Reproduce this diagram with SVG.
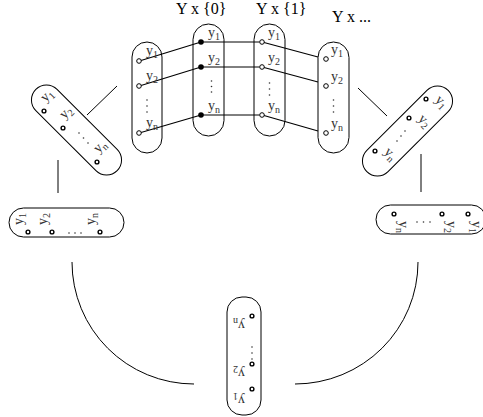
<svg xmlns="http://www.w3.org/2000/svg" width="483" height="417" viewBox="0 0 483 417">
<style>
.cap{fill:none;stroke:#000;stroke-width:1}
.oc{fill:#fff;stroke:#000;stroke-width:1}
.bc{fill:#fff;stroke:#000;stroke-width:1.4}
.fd{fill:#000}
.dt{fill:#333}
.lb{font-family:"Liberation Serif",serif;font-size:14px;fill:#333}
.sb{font-size:10px}
.tt{font-family:"Liberation Serif",serif;font-size:16px;fill:#000}
.ln{fill:none;stroke:#000;stroke-width:1}
.lt{fill:none;stroke:#000;stroke-width:1.2}
</style>
<g id="connectors">
<path class="lt" d="M141,60.5 L201,42 M141,85.5 L201,67 M141,132.5 L201,115"/>
<path class="ln" d="M201,42 H259.5 M201,67 H259.5 M201,115 H259.5"/>
<path class="lt" d="M264,42.5 L318,57 M264,67.5 L318,82 M264,115.5 L318,131"/>
<path class="ln" d="M117,86 L87,115 M58,160 V193 M358,88 L387,116 M421,154 V192"/>
<path class="ln" d="M72,262 A122,122 0 0 0 194,384 M418,262 A123,122 0 0 1 295,384"/>
</g>
<g id="cap1">
<rect class="cap" x="132" y="42" width="30" height="111" rx="15"/>
<text class="lb" x="146" y="55">y<tspan class="sb" dy="3">1</tspan></text>
<text class="lb" x="146" y="80">y<tspan class="sb" dy="3">2</tspan></text>
<text class="lb" x="146" y="127">y<tspan class="sb" dy="3">n</tspan></text>
<circle class="dt" cx="147" cy="100" r="0.8"/><circle class="dt" cx="147" cy="106" r="0.8"/><circle class="dt" cx="147" cy="112" r="0.8"/>
<circle class="oc" cx="139" cy="61" r="2.3"/><circle class="oc" cx="139" cy="86" r="2.3"/><circle class="oc" cx="139" cy="133" r="2.3"/>
</g>
<g id="cap2">
<text class="tt" x="176" y="14">Y x {0}</text>
<rect class="cap" x="193" y="24" width="31" height="112" rx="15.5"/>
<text class="lb" x="208" y="37">y<tspan class="sb" dy="3">1</tspan></text>
<text class="lb" x="208" y="62">y<tspan class="sb" dy="3">2</tspan></text>
<text class="lb" x="208" y="110">y<tspan class="sb" dy="3">n</tspan></text>
<circle class="dt" cx="211.5" cy="81" r="0.8"/><circle class="dt" cx="211.5" cy="86.5" r="0.8"/><circle class="dt" cx="211.5" cy="92" r="0.8"/>
<circle class="fd" cx="201" cy="42" r="2.8"/><circle class="fd" cx="201" cy="67" r="2.8"/><circle class="fd" cx="201" cy="115" r="2.8"/>
</g>
<g id="cap3">
<text class="tt" x="256" y="14">Y x {1}</text>
<rect class="cap" x="254" y="24" width="31" height="112" rx="15.5"/>
<text class="lb" x="268" y="37">y<tspan class="sb" dy="3">1</tspan></text>
<text class="lb" x="268" y="62">y<tspan class="sb" dy="3">2</tspan></text>
<text class="lb" x="268" y="110">y<tspan class="sb" dy="3">n</tspan></text>
<circle class="dt" cx="269.5" cy="83" r="0.8"/><circle class="dt" cx="269.5" cy="89" r="0.8"/><circle class="dt" cx="269.5" cy="95" r="0.8"/>
<circle class="oc" cx="262" cy="42" r="2.3"/><circle class="oc" cx="262" cy="67" r="2.3"/><circle class="oc" cx="262" cy="115" r="2.3"/>
</g>
<g id="cap4">
<text class="tt" x="332" y="21.5">Y x ...</text>
<rect class="cap" x="318" y="42" width="31" height="111" rx="15.5"/>
<text class="lb" x="331" y="54">y<tspan class="sb" dy="3">1</tspan></text>
<text class="lb" x="331" y="81">y<tspan class="sb" dy="3">2</tspan></text>
<text class="lb" x="331" y="128">y<tspan class="sb" dy="3">n</tspan></text>
<circle class="dt" cx="333.5" cy="100" r="0.8"/><circle class="dt" cx="333.5" cy="106" r="0.8"/><circle class="dt" cx="333.5" cy="112" r="0.8"/>
<circle class="oc" cx="326" cy="59" r="2.3"/><circle class="oc" cx="326" cy="86" r="2.3"/><circle class="oc" cx="326" cy="133" r="2.3"/>
</g>
<g id="leftTilted">
<rect class="cap" x="-15" y="-57.5" width="30" height="115" rx="15" transform="translate(76.5,130) rotate(-45)"/>
<text class="lb" transform="translate(45.4,102.5) rotate(-45)">y<tspan class="sb" dy="3">1</tspan></text>
<text class="lb" transform="translate(64.4,119.5) rotate(-45)">y<tspan class="sb" dy="3">2</tspan></text>
<text class="lb" transform="translate(98.4,153.5) rotate(-45)">y<tspan class="sb" dy="3">n</tspan></text>
<circle class="dt" cx="79" cy="133" r="0.8"/><circle class="dt" cx="83.5" cy="138" r="0.8"/><circle class="dt" cx="88" cy="143" r="0.8"/>
<circle class="bc" cx="44" cy="111" r="1.9"/><circle class="bc" cx="63" cy="128" r="1.9"/><circle class="bc" cx="97" cy="162" r="1.9"/>
</g>
<g id="leftHorizontal">
<rect class="cap" x="9" y="208" width="115" height="29" rx="14.5"/>
<text class="lb" transform="translate(23,225) rotate(-90)">y<tspan class="sb" dy="3">1</tspan></text>
<text class="lb" transform="translate(47,225) rotate(-90)">y<tspan class="sb" dy="3">2</tspan></text>
<text class="lb" transform="translate(95,225) rotate(-90)">y<tspan class="sb" dy="3">n</tspan></text>
<circle class="dt" cx="69" cy="233" r="0.8"/><circle class="dt" cx="75" cy="233" r="0.8"/><circle class="dt" cx="81" cy="233" r="0.8"/>
<circle class="bc" cx="28" cy="232" r="1.9"/><circle class="bc" cx="52" cy="232" r="1.9"/><circle class="bc" cx="100" cy="232" r="1.9"/>
</g>
<g id="bottom">
<rect class="cap" x="227" y="297" width="34" height="118" rx="15"/>
<text class="lb" transform="translate(245,396) rotate(180)">y<tspan class="sb" dy="3">1</tspan></text>
<text class="lb" transform="translate(245,369) rotate(180)">y<tspan class="sb" dy="3">2</tspan></text>
<text class="lb" transform="translate(245,321) rotate(180)">y<tspan class="sb" dy="3">n</tspan></text>
<circle class="dt" cx="252" cy="347" r="0.8"/><circle class="dt" cx="252" cy="353" r="0.8"/><circle class="dt" cx="252" cy="359" r="0.8"/>
<circle class="bc" cx="252" cy="389" r="1.9"/><circle class="bc" cx="252" cy="364" r="1.9"/><circle class="bc" cx="252" cy="316" r="1.9"/>
</g>
<g id="rightHorizontal">
<rect class="cap" x="376" y="205" width="110" height="29" rx="14.5"/>
<text class="lb" transform="translate(471.5,221) rotate(90)">y<tspan class="sb" dy="3">1</tspan></text>
<text class="lb" transform="translate(447,221) rotate(90)">y<tspan class="sb" dy="3">2</tspan></text>
<text class="lb" transform="translate(399,221) rotate(90)">y<tspan class="sb" dy="3">n</tspan></text>
<circle class="dt" cx="417" cy="222" r="0.8"/><circle class="dt" cx="423.5" cy="222" r="0.8"/><circle class="dt" cx="430" cy="222" r="0.8"/>
<circle class="bc" cx="468" cy="214" r="1.9"/><circle class="bc" cx="442" cy="214" r="1.9"/><circle class="bc" cx="394" cy="214" r="1.9"/>
</g>
<g id="rightTilted">
<rect class="cap" x="-15" y="-57.5" width="30" height="115" rx="15" transform="translate(407.5,131) rotate(45)"/>
<text class="lb" transform="translate(434.5,100.4) rotate(45)">y<tspan class="sb" dy="3">1</tspan></text>
<text class="lb" transform="translate(417.5,119.4) rotate(45)">y<tspan class="sb" dy="3">2</tspan></text>
<text class="lb" transform="translate(383.5,152.4) rotate(45)">y<tspan class="sb" dy="3">n</tspan></text>
<circle class="dt" cx="405" cy="131" r="0.8"/><circle class="dt" cx="401" cy="136" r="0.8"/><circle class="dt" cx="397" cy="141" r="0.8"/>
<circle class="bc" cx="426" cy="99" r="1.9"/><circle class="bc" cx="409" cy="118" r="1.9"/><circle class="bc" cx="375" cy="151" r="1.9"/>
</g>
</svg>
